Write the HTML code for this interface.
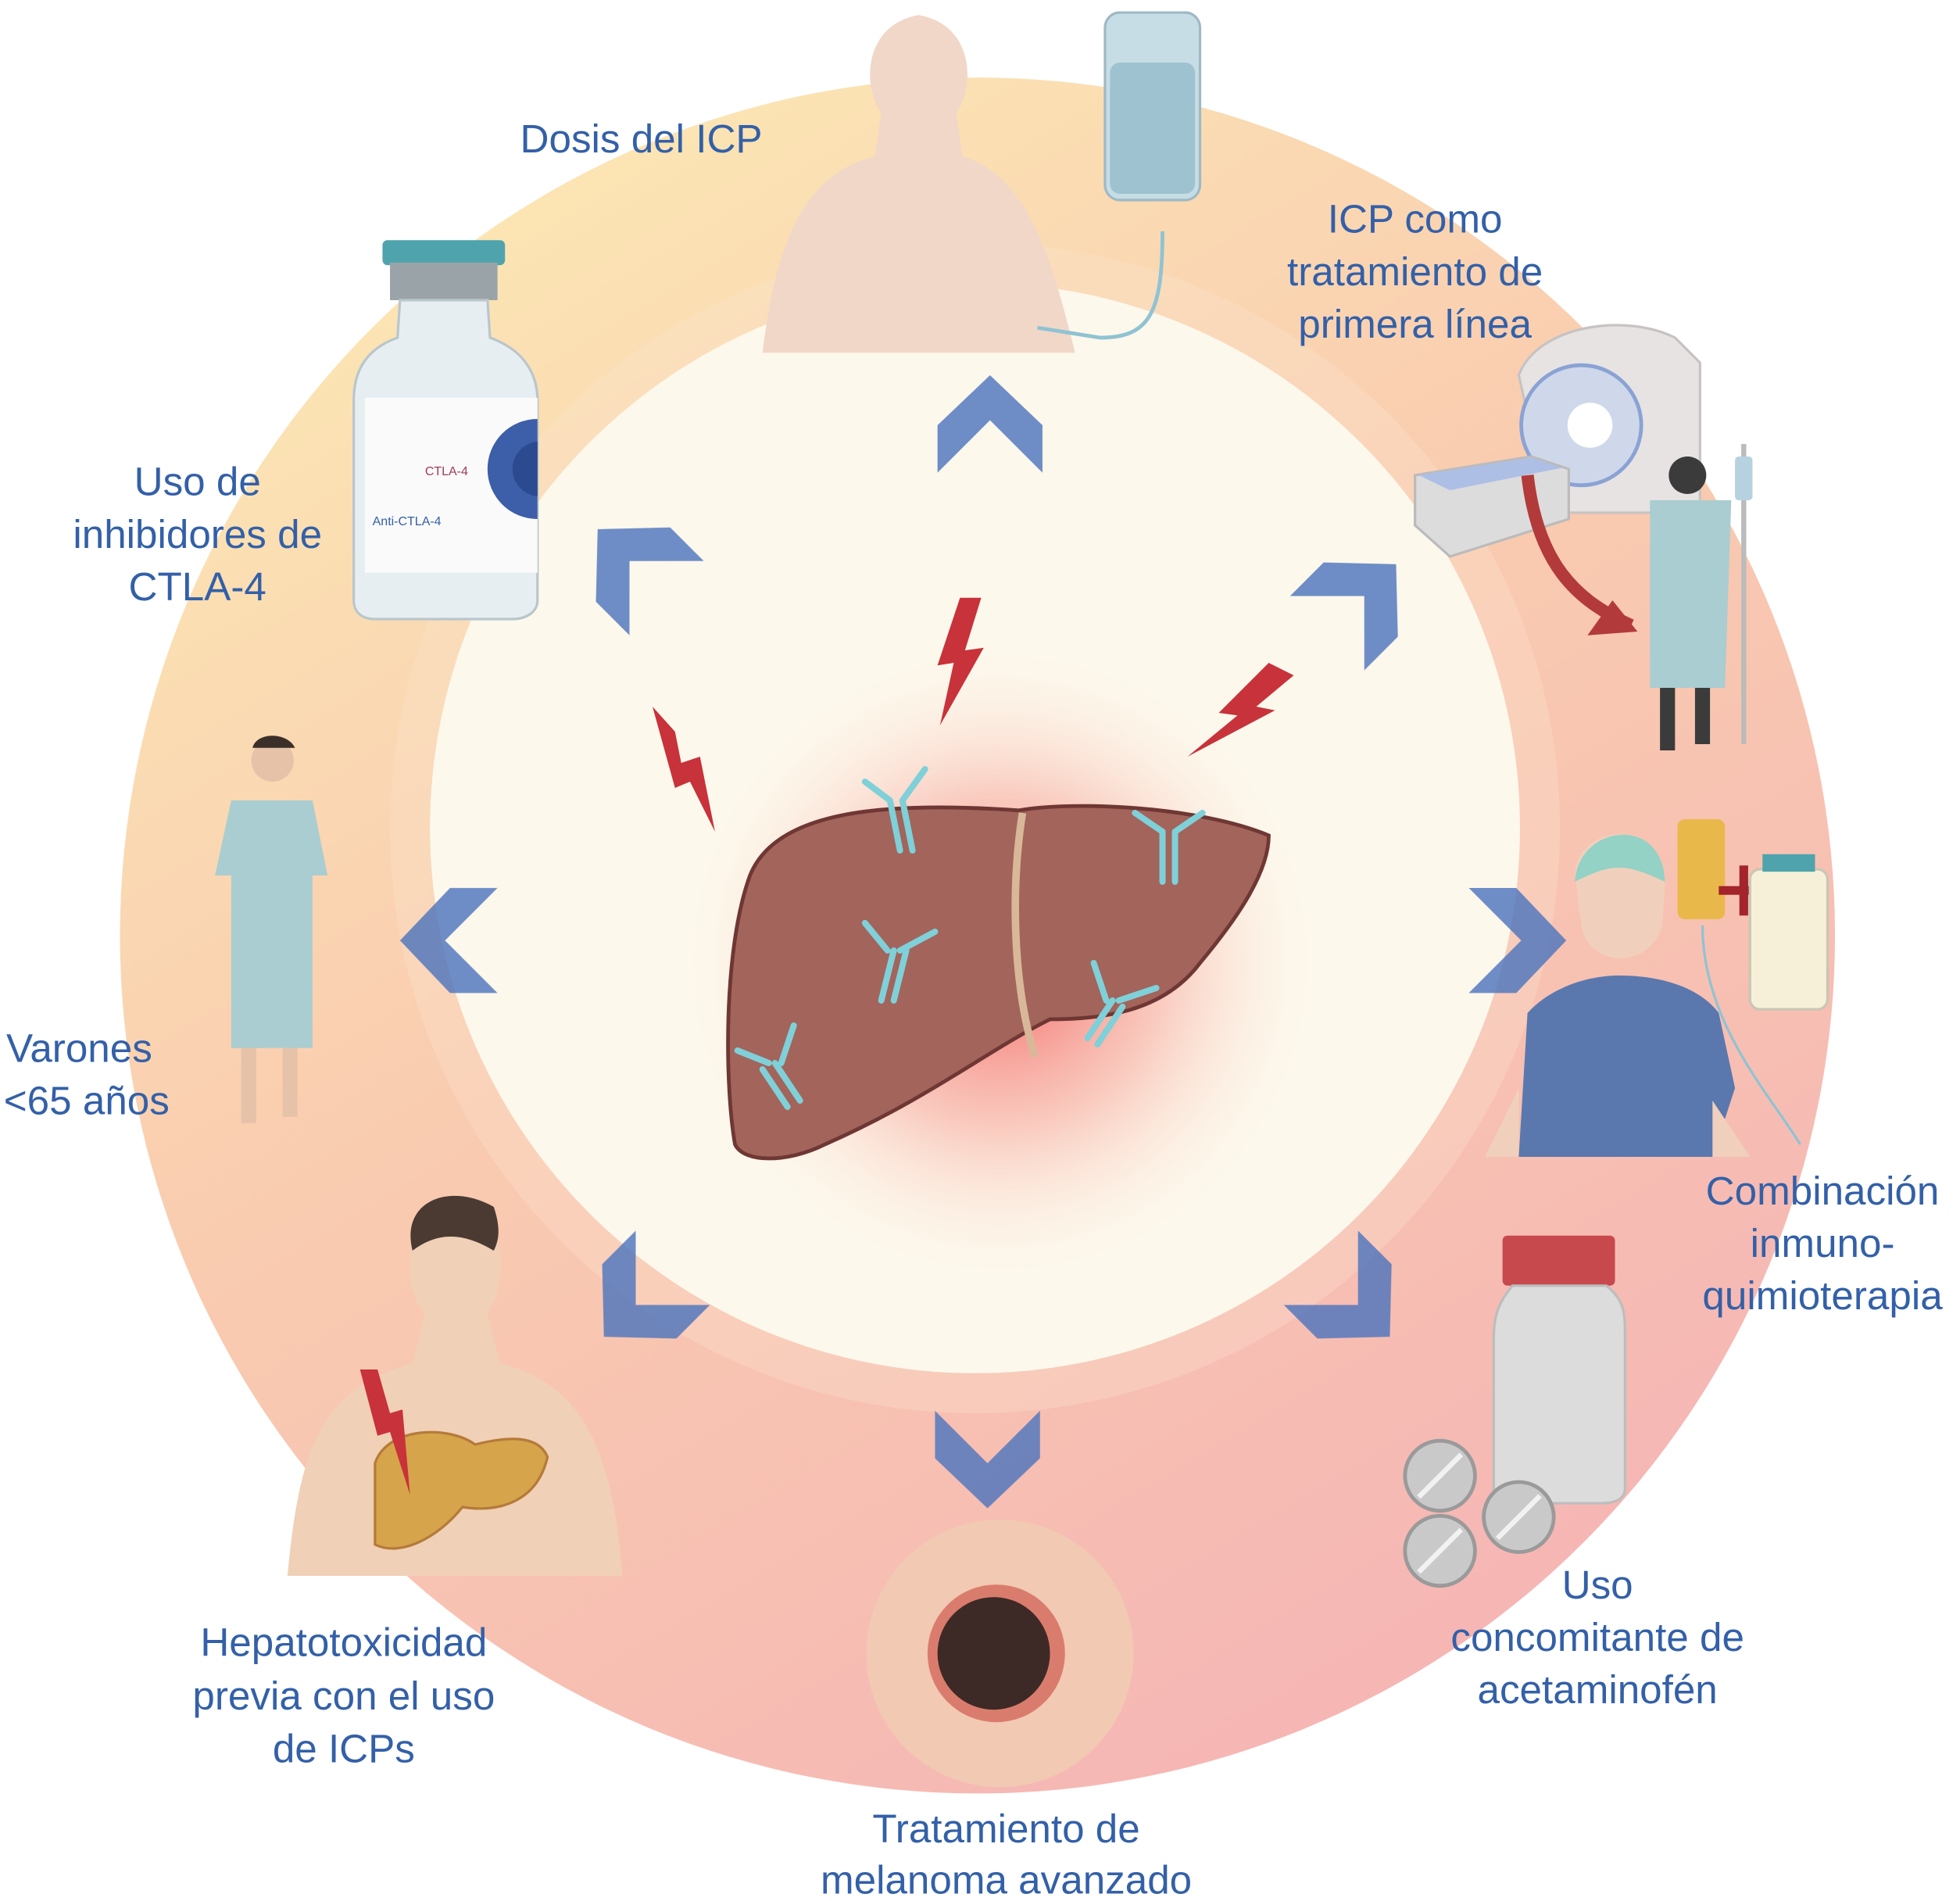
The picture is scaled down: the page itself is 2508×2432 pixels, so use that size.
<!DOCTYPE html>
<html><head><meta charset="utf-8"><style>
html,body{margin:0;padding:0;background:#fff}
svg{display:block}
text{font-family:"Liberation Sans",sans-serif;fill:#3360a8;font-size:32px}
</style></head><body>
<svg width="2508" height="2432" viewBox="0 0 1568 1520" preserveAspectRatio="none" xmlns="http://www.w3.org/2000/svg">
<defs>
<linearGradient id="ring" x1="0.2" y1="0" x2="0.8" y2="1">
<stop offset="0" stop-color="#fce9b4"/><stop offset="0.45" stop-color="#f9cbb0"/><stop offset="1" stop-color="#f5b3b5"/>
</linearGradient>
<radialGradient id="glow" cx="0.5" cy="0.5" r="0.5">
<stop offset="0" stop-color="#f04848" stop-opacity="0.85"/><stop offset="0.5" stop-color="#f69a8f" stop-opacity="0.5"/><stop offset="1" stop-color="#fdf8ec" stop-opacity="0"/>
</radialGradient>
<clipPath id="vc"><rect x="292" y="318" width="138" height="140"/></clipPath>
</defs>
<circle cx="782" cy="748" r="686" fill="url(#ring)"/>
<circle cx="780" cy="662" r="468" fill="#fbe6cf" opacity="0.3"/>
<circle cx="780" cy="662" r="436" fill="#fdf8ec"/>
<circle cx="800" cy="770" r="260" fill="url(#glow)"/>
<!-- liver -->
<path d="M600,700 C620,650 700,640 815,648 C860,640 960,645 1015,668 C1015,700 985,740 960,770 C930,810 880,815 840,815 C790,840 740,880 660,915 C630,930 595,930 588,915 C580,870 578,760 600,700 Z" fill="#a2645b" stroke="#6f3733" stroke-width="3"/>
<path d="M818,650 C810,700 808,780 828,845" stroke="#d9b89a" stroke-width="6" fill="none"/>
<g stroke="#7fd0d8" stroke-width="5" fill="none" stroke-linecap="round">
<path d="M720,680 L712,640 M730,680 L722,640 M712,640 L692,625 M722,640 L740,615"/>
<path d="M930,705 L930,665 M940,705 L940,665 M930,665 L908,650 M940,665 L962,650"/>
<path d="M705,800 L715,760 M715,800 L725,760 M720,760 L748,745 M710,760 L692,738"/>
<path d="M630,885 L610,855 M640,880 L620,850 M615,850 L590,840 M625,850 L635,820"/>
<path d="M870,830 L890,800 M878,835 L898,805 M895,800 L925,790 M885,800 L875,770"/>
</g>
<!-- bolts -->
<g fill="#c8323a">
<path d="M768,478 L785,478 L772,520 L787,518 L752,580 L763,530 L750,532 Z"/>
<path d="M522,565 L540,585 L545,610 L560,605 L572,665 L552,625 L540,630 Z"/>
<path d="M1015,530 L1035,540 L1005,565 L1020,568 L950,605 L990,572 L975,570 Z"/>
</g>
<!-- chevrons -->
<g fill="#4f76be" opacity="0.82">
<path d="M-42,40 L0,-2 L42,40 L42,2 L0,-38 L-42,2 Z" transform="translate(792,338)"/>
<path d="M-42,40 L0,-2 L42,40 L42,2 L0,-38 L-42,2 Z" transform="translate(790,1168) rotate(180)"/>
<path d="M-42,40 L0,-2 L42,40 L42,2 L0,-38 L-42,2 Z" transform="translate(358,752) rotate(-90)"/>
<path d="M-42,40 L0,-2 L42,40 L42,2 L0,-38 L-42,2 Z" transform="translate(1215,752) rotate(90)"/>
<path d="M-42,40 L0,-2 L42,40 L42,2 L0,-38 L-42,2 Z" transform="translate(505,450) rotate(-45)"/>
<path d="M-42,40 L0,-2 L42,40 L42,2 L0,-38 L-42,2 Z" transform="translate(1090,478) rotate(45)"/>
<path d="M-42,40 L0,-2 L42,40 L42,2 L0,-38 L-42,2 Z" transform="translate(510,1042) rotate(-135)"/>
<path d="M-42,40 L0,-2 L42,40 L42,2 L0,-38 L-42,2 Z" transform="translate(1085,1042) rotate(135)"/>
</g>
<!-- top person + IV -->
<path d="M610,282 C620,200 640,140 700,125 L705,90 C690,70 690,20 735,12 C780,20 780,70 765,90 L770,125 C820,140 840,200 860,282 Z" fill="#f1d7c8"/>
<rect x="884" y="10" width="76" height="150" rx="12" fill="#c7dde6" stroke="#9fb9c4" stroke-width="2"/>
<rect x="888" y="50" width="68" height="105" rx="8" fill="#9fc2d0"/>
<path d="M930,185 C930,250 920,270 880,270 L830,262" stroke="#8fc3d3" stroke-width="3" fill="none"/>
<!-- vial -->
<rect x="306" y="192" width="98" height="20" rx="4" fill="#4fa3ad"/>
<rect x="312" y="210" width="86" height="30" fill="#9aa3a8"/>
<path d="M320,240 L390,240 L392,270 C420,280 430,300 430,320 L430,480 C430,490 420,495 410,495 L300,495 C290,495 283,490 283,480 L283,320 C283,300 290,280 318,270 Z" fill="#e7eef1" stroke="#b9c6cc" stroke-width="2"/>
<rect x="292" y="318" width="138" height="140" fill="#fafafa"/>
<g clip-path="url(#vc)"><circle cx="430" cy="375" r="40" fill="#3d5ea8"/><circle cx="432" cy="375" r="22" fill="#2c4a90"/></g>
<text x="340" y="380" style="font-size:10px;fill:#a33a5a">CTLA-4</text>
<text x="298" y="420" style="font-size:10px;fill:#3360a8">Anti-CTLA-4</text>
<!-- MRI and patient -->
<path d="M1215,300 C1230,260 1300,250 1340,270 L1360,290 L1360,410 L1240,410 Z" fill="#e6e3e2" stroke="#c7c3c2" stroke-width="2"/>
<circle cx="1265" cy="340" r="48" fill="#cfd8ea" stroke="#8aa2d4" stroke-width="3"/>
<circle cx="1272" cy="340" r="18" fill="#fff"/>
<path d="M1132,380 L1225,365 L1255,375 L1255,415 L1160,445 L1132,420 Z" fill="#dcdcdc" stroke="#bbb" stroke-width="2"/>
<path d="M1135,380 L1225,366 L1250,374 L1160,392 Z" fill="#aebfe6"/>
<path d="M1222,380 C1230,450 1260,480 1305,500" stroke="#b33a3a" stroke-width="10" fill="none"/>
<path d="M1290,480 L1310,505 L1270,508 Z" fill="#b33a3a"/>
<circle cx="1350" cy="380" r="15" fill="#3b3b3b"/>
<path d="M1320,400 L1385,400 L1380,550 L1320,550 Z" fill="#a9cdd1"/>
<rect x="1328" y="550" width="12" height="50" fill="#3b3b3b"/><rect x="1356" y="550" width="12" height="45" fill="#3b3b3b"/>
<rect x="1393" y="355" width="4" height="240" fill="#bbb"/>
<rect x="1388" y="365" width="14" height="35" rx="3" fill="#b6d2e0"/>
<!-- standing man left -->
<circle cx="218" cy="608" r="17" fill="#e6c2a8"/>
<path d="M202,598 C205,585 230,585 236,598 Z" fill="#3b2f2a"/>
<path d="M185,640 L250,640 L262,700 L250,700 L250,838 L185,838 L185,700 L172,700 Z" fill="#a9cdd1"/>
<rect x="193" y="838" width="12" height="60" fill="#e6c2a8"/><rect x="226" y="838" width="12" height="55" fill="#e6c2a8"/>
<!-- right patient -->
<path d="M1260,700 C1260,660 1330,650 1332,705 L1330,740 C1320,775 1272,775 1265,740 Z" fill="#f0d0bc"/>
<path d="M1260,705 C1262,660 1330,650 1332,705 C1300,690 1290,690 1260,705 Z" fill="#93d2c4"/>
<path d="M1215,925 L1222,810 C1240,790 1270,780 1295,780 C1330,780 1360,790 1375,810 L1388,870 L1370,925 Z" fill="#5a78ae"/>
<path d="M1188,925 L1215,870 L1215,925 Z M1370,880 L1400,925 L1370,925 Z" fill="#f0d0bc"/>
<rect x="1342" y="655" width="38" height="80" rx="6" fill="#e9b84a"/>
<path d="M1375,712 L1415,712 M1395,692 L1395,732" stroke="#a3242a" stroke-width="7"/>
<rect x="1400" y="695" width="62" height="112" rx="8" fill="#f6f0d8" stroke="#c9c6b4" stroke-width="2"/>
<rect x="1410" y="683" width="42" height="14" fill="#4fa3ad"/>
<path d="M1362,740 C1362,820 1420,880 1440,915" stroke="#8fc3d3" stroke-width="2" fill="none"/>
<!-- pills bottle -->
<rect x="1202" y="988" width="90" height="40" rx="4" fill="#c8494d"/>
<path d="M1210,1028 L1285,1028 C1300,1040 1300,1050 1300,1070 L1300,1190 C1300,1200 1290,1202 1280,1202 L1210,1202 C1200,1202 1195,1198 1195,1190 L1195,1070 C1195,1050 1200,1040 1210,1028 Z" fill="#dcdcdc" stroke="#bdbdbd" stroke-width="2"/>
<g fill="#c9c9c9" stroke="#9a9a9a" stroke-width="3">
<circle cx="1152" cy="1180" r="28"/><circle cx="1215" cy="1213" r="28"/><circle cx="1152" cy="1240" r="28"/>
</g>
<g stroke="#f2f2f2" stroke-width="4"><path d="M1135,1197 L1169,1163 M1198,1230 L1232,1196 M1135,1257 L1169,1223"/></g>
<!-- melanoma -->
<circle cx="800" cy="1322" r="107" fill="#f2c9b2"/>
<circle cx="797" cy="1322" r="55" fill="#c94a40" opacity="0.6"/>
<circle cx="795" cy="1322" r="45" fill="#3d2a26"/>
<!-- hepatotox man -->
<path d="M230,1260 C240,1150 260,1110 330,1090 L340,1050 C320,1030 320,970 365,965 C410,970 405,1030 390,1050 L400,1090 C460,1105 490,1150 498,1260 Z" fill="#f0d0b6"/>
<path d="M330,1000 C320,960 360,945 395,965 C400,980 400,990 395,1000 C370,985 350,985 330,1000 Z" fill="#4a3a32"/>
<path d="M300,1170 C310,1140 360,1140 380,1155 C400,1150 430,1145 438,1165 C430,1200 400,1210 370,1205 C350,1230 320,1245 300,1235 Z" fill="#d6a44a" stroke="#b57a3a" stroke-width="2"/>
<path d="M288,1095 L302,1095 L312,1130 L322,1127 L328,1195 L312,1145 L302,1148 Z" fill="#c8323a"/>
<!-- labels -->
<text x="513" y="122" text-anchor="middle">Dosis del ICP</text>
<g text-anchor="middle">
<text x="1132" y="186">ICP como</text><text x="1132" y="228">tratamiento de</text><text x="1132" y="270">primera línea</text>
<text x="158" y="396">Uso de</text><text x="158" y="438">inhibidores de</text><text x="158" y="480">CTLA-4</text>
<text x="275" y="1324">Hepatotoxicidad</text><text x="275" y="1367">previa con el uso</text><text x="275" y="1409">de ICPs</text>
<text x="805" y="1473">Tratamiento de</text><text x="805" y="1514">melanoma avanzado</text>
<text x="1278" y="1278">Uso</text><text x="1278" y="1320">concomitante de</text><text x="1278" y="1362">acetaminofén</text>
<text x="1458" y="963">Combinación</text><text x="1458" y="1005">inmuno-</text><text x="1458" y="1047">quimioterapia</text>
</g>
<text x="5" y="849">Varones</text><text x="3" y="891">&lt;65 años</text>
</svg>
</body></html>
